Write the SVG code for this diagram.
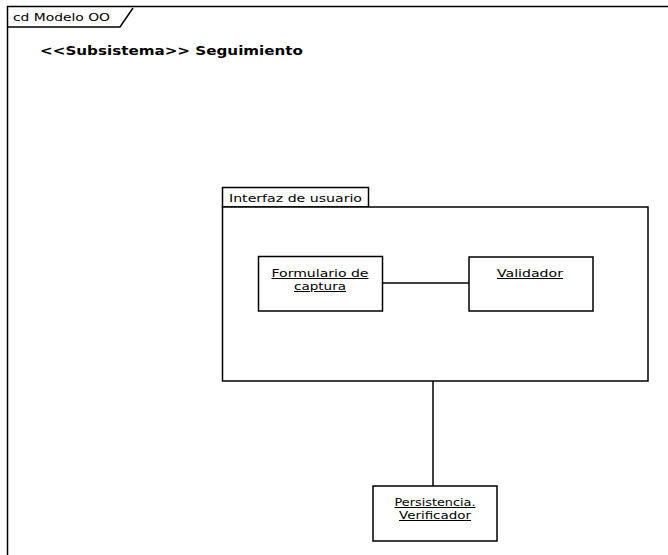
<svg xmlns="http://www.w3.org/2000/svg" width="668" height="555" viewBox="0 0 668 555">
<style>
  .ln{fill:none;stroke:#000;stroke-width:1.5}
  .box{fill:#fff;stroke:#000;stroke-width:1.5}
  .t{font-family:"DejaVu Sans","Liberation Sans",sans-serif;fill:#000}
  .obj{font-size:10px;text-decoration:underline;text-anchor:middle}
  .lbl{font-size:10px}
  .title{font-size:13px;font-weight:bold}
</style>
<rect x="0" y="0" width="668" height="555" fill="#fff"/>
<g id="frame">
  <rect class="ln" x="7.5" y="6.5" width="700" height="600" stroke-width="2"/>
  <path class="ln" d="M7.5,27 H120 L133,8" stroke-width="1.5"/>
  <text class="t lbl" x="13" y="21" textLength="97" lengthAdjust="spacingAndGlyphs">cd Modelo OO</text>
  <text class="t title" x="40" y="55" textLength="263" lengthAdjust="spacingAndGlyphs">&lt;&lt;Subsistema&gt;&gt; Seguimiento</text>
</g>
<g id="interfaz">
  <rect class="box" x="222.5" y="187.5" width="146" height="19.5"/>
  <rect class="box" x="222.5" y="207" width="425.5" height="174"/>
  <text class="t lbl" x="229" y="202" textLength="133" lengthAdjust="spacingAndGlyphs">Interfaz de usuario</text>
</g>
<g id="connectors">
  <line class="ln" x1="382" y1="283" x2="469" y2="283"/>
  <line class="ln" x1="433" y1="381" x2="433" y2="486"/>
</g>
<g id="formulario">
  <rect class="box" x="258.5" y="256.5" width="124" height="54.5"/>
  <text class="t obj" x="320" y="277" textLength="97" lengthAdjust="spacingAndGlyphs">Formulario de</text>
  <text class="t obj" x="320" y="290" textLength="52" lengthAdjust="spacingAndGlyphs">captura</text>
</g>
<g id="validador">
  <rect class="box" x="469" y="257" width="124" height="54"/>
  <text class="t obj" x="530" y="277" textLength="66" lengthAdjust="spacingAndGlyphs">Validador</text>
</g>
<g id="persistencia">
  <rect class="box" x="373" y="486" width="124" height="55"/>
  <text class="t obj" x="435" y="506" textLength="81" lengthAdjust="spacingAndGlyphs">Persistencia.</text>
  <text class="t obj" x="435" y="519" textLength="72" lengthAdjust="spacingAndGlyphs">Verificador</text>
</g>
</svg>
